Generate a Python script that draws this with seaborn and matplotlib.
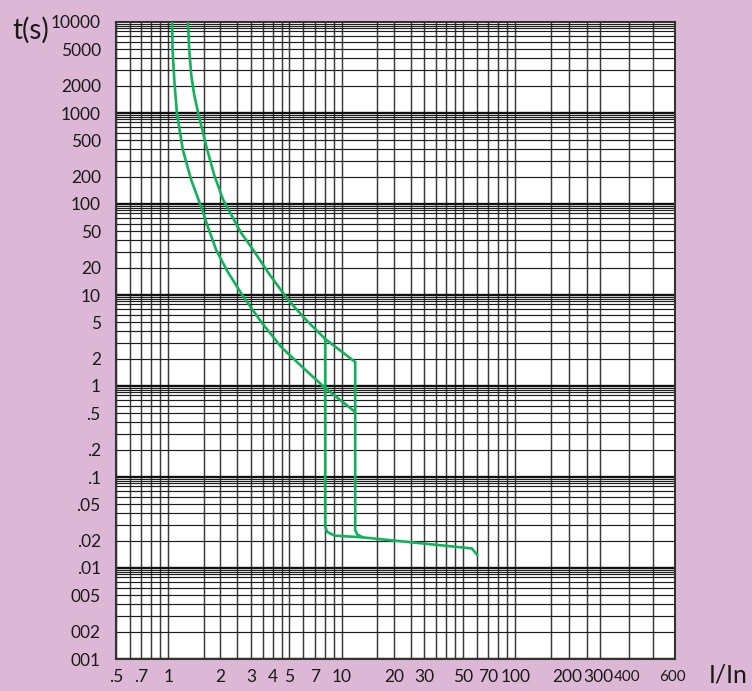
import numpy as np
import pandas as pd
import matplotlib
matplotlib.use("Agg")
import matplotlib.pyplot as plt
import matplotlib.ticker as mticker
import matplotlib.transforms as mtransforms
import seaborn as sns

# ---- tripping characteristic: current multiple I/In vs. trip time t (s) ----
# slow (upper / maximum) thermal curve, ending on the 12 In magnetic step
upper_I = [1.299, 1.322, 1.357, 1.412, 1.489, 1.656, 1.841, 2.075, 2.634, 3.009,
           3.821, 4.916, 6.243, 8.03, 11.96]
upper_t = [10000, 4923, 2616, 1577, 1000, 434, 208, 110.7, 48.0, 33.7,
           17.0, 8.81, 5.31, 3.29, 1.835]

# fast (lower / minimum) thermal curve
lower_I = [1.054, 1.059, 1.087, 1.122, 1.215, 1.357, 1.550, 1.701, 1.891, 2.188,
           2.671, 3.436, 4.481, 6.00, 8.03, 11.96]
lower_t = [10000, 4923, 2137, 1000, 392, 183.5, 92.7, 54.5, 31.2, 18.35,
           10.0, 5.05, 2.68, 1.58, 0.951, 0.518]

# magnetic release at 12 In, then the instantaneous tail
inst_hi_I = [11.96, 11.96, 12.3, 13.25, 56.3, 60.4]
inst_hi_t = [1.835, 0.026, 0.0233, 0.0217, 0.0164, 0.0139]

# magnetic release at 8 In
inst_lo_I = [8.03, 8.03, 8.25, 9.09, 13.25]
inst_lo_t = [3.29, 0.0284, 0.0249, 0.0227, 0.0217]

# tick labels
x_ticks = [0.5, 0.7, 1, 2, 3, 4, 5, 7, 10, 20, 30, 50, 70, 100, 200, 300]
x_labels = [".5", ".7", "1", "2", "3", "4", "5", "7", "10", "20", "30", "50", "70",
            "100", "200", "300"]
# smaller labels printed slightly right of their rulings (value, text, shift in px)
x_shifted = [(400, "400", 7), (600, "600", 22)]
y_ticks = [10000, 5000, 2000, 1000, 500, 200, 100, 50, 20, 10, 5, 2, 1, 0.5, 0.2,
           0.1, 0.05, 0.02, 0.01, 0.005, 0.002, 0.001]
y_labels = ["10000", "5000", "2000", "1000", "500", "200", "100", "50", "20", "10",
            "5", "2", "1", ".5", ".2", ".1", ".05", ".02", ".01", "005", "002", "001"]

# log-paper rulings
y_decades = [0.001, 0.01, 0.1, 1, 10, 100, 1000]
y_steps = [2, 3, 4, 5, 6, 7, 8, 8.5, 9, 9.5]
x_rulings = ([0.5, 0.6, 0.7, 0.8, 0.9]
             + [d * m for d in (1, 10) for m in (1, 1.6, 2, 2.5, 3, 3.5, 4, 4.5, 5, 6, 7, 8, 9)]
             + [100, 160, 205, 260, 310, 450, 620])

PINK = "#DDB8D6"
GREEN = "#12B25C"
TEXT = "#1a1a1a"
FS = 12.5

sns.set_style("white")
plt.rcParams["font.family"] = ["Liberation Sans Narrow", "Lato", "DejaVu Sans"]

W, H = 752, 691
fig = plt.figure(figsize=(W / 100, H / 100), dpi=100, facecolor=PINK)
ax = fig.add_axes([116 / W, (H - 659) / H, 559 / W, 637 / H])
ax.set_facecolor("white")
ax.set_xscale("log")
ax.set_yscale("log")
ax.set_xlim(0.5, 834)
ax.set_ylim(0.001, 10000)

# paper rulings
for xv in x_rulings:
    ax.axvline(xv, color="#3a3a3a", lw=1.05, zorder=1)
for d in y_decades:
    ax.axhline(d, color="#111111", lw=1.7, zorder=1)
    for m in y_steps:
        ax.axhline(d * m, color="#1e1e1e", lw=0.85, zorder=1)

# characteristic curves
curves = [(upper_I, upper_t), (lower_I, lower_t),
          (inst_hi_I, inst_hi_t), (inst_lo_I, inst_lo_t)]
for xs, ts in curves:
    df = pd.DataFrame({"I": xs, "t": ts})
    sns.lineplot(data=df, x="I", y="t", sort=False, estimator=None,
                 color=GREEN, lw=1.9, ax=ax, zorder=3)

ax.set_xlabel("")
ax.set_ylabel("")
ax.xaxis.set_minor_locator(mticker.NullLocator())
ax.yaxis.set_minor_locator(mticker.NullLocator())
ax.set_xticks(x_ticks)
ax.set_xticklabels(x_labels)
ax.set_yticks(y_ticks)
ax.set_yticklabels(y_labels)
ax.tick_params(axis="both", length=0, labelsize=FS, colors=TEXT)
ax.tick_params(axis="x", pad=7)
ax.tick_params(axis="y", pad=11)

for val, txt, dx in x_shifted:
    tr = mtransforms.offset_copy(ax.get_xaxis_transform(), fig=fig,
                                 x=dx, y=-8 * 100 / 72, units="dots")
    ax.text(val, 0, txt, transform=tr, ha="center", va="top", fontsize=11, color=TEXT)

for s in ax.spines.values():
    s.set_color("#333333")
    s.set_linewidth(1.5)

fig.text(31 / W, 1 - 30 / H, "t(s)", ha="center", va="center", fontsize=20, color=TEXT)
fig.text(728 / W, 1 - 675 / H, "I/In", ha="center", va="center", fontsize=18, color=TEXT)

fig.savefig("out.png", dpi=100, facecolor=PINK)
